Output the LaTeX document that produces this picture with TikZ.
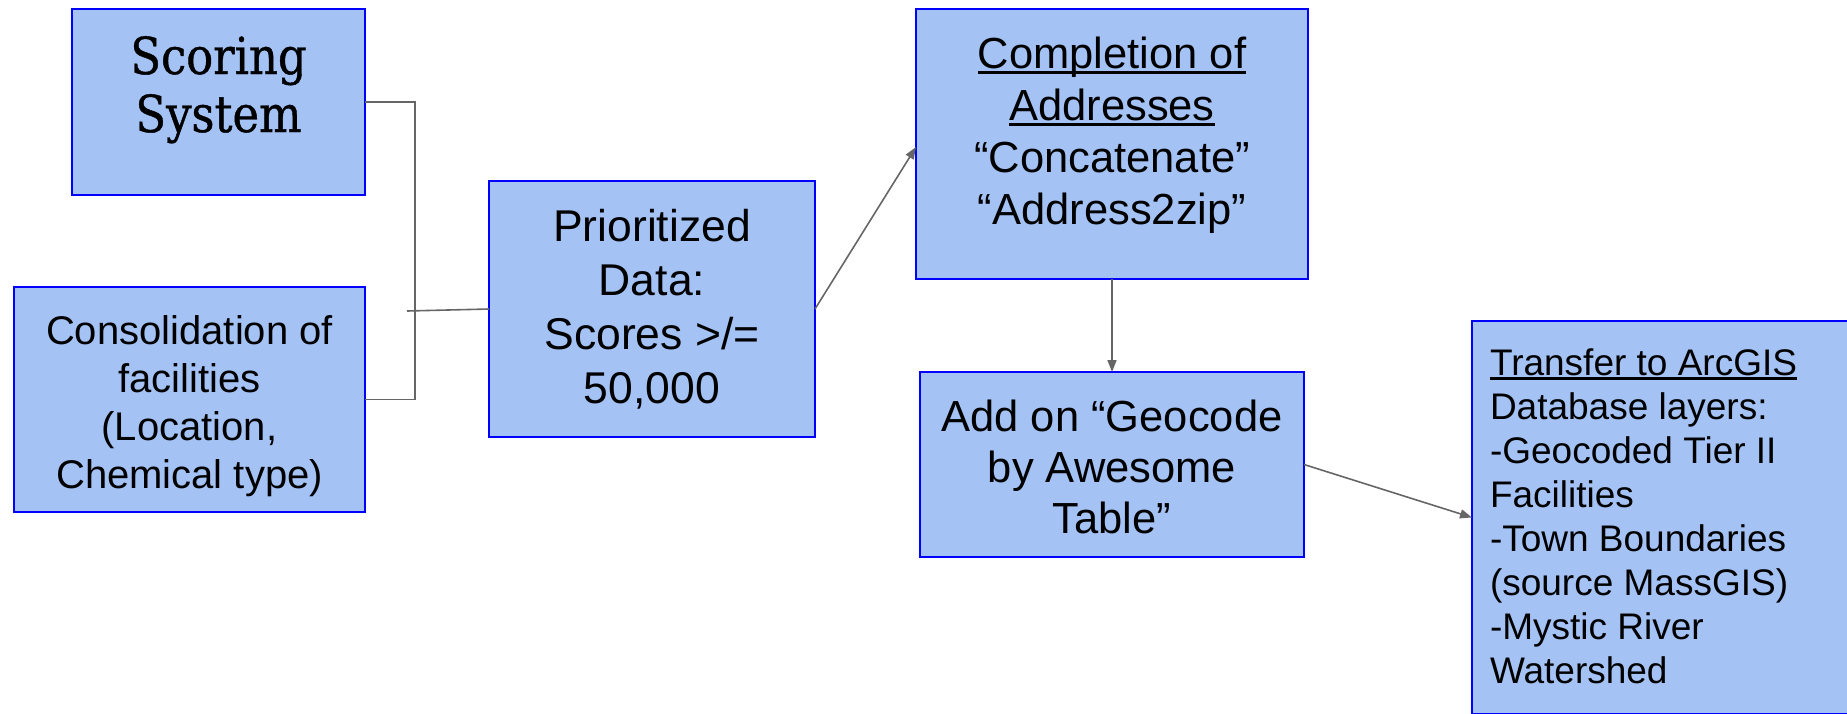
\documentclass[tikz,border=0pt]{standalone}
\usepackage{fontspec}
\setmainfont{Liberation Sans}
\newfontfamily\headserif[FakeStretch=0.88,FakeBold=0.8]{DejaVu Serif}
\usetikzlibrary{arrows.meta}
\definecolor{boxfill}{HTML}{A4C2F4}
\definecolor{boxline}{HTML}{0000FF}
\definecolor{linkgray}{HTML}{666666}
% underline drawn through the descenders, as in slide software
\newcommand\myul[1]{\setbox0=\hbox{#1}\rlap{\rule[-5pt]{\wd0}{2.8pt}}\box0}
\tikzset{
  box/.style={draw=boxline, line width=2pt, fill=boxfill, inner sep=0pt, outer sep=0pt},
  boxtext/.style={inner sep=0pt, outer sep=0pt, align=center, anchor=north, text=black},
  wire/.style={draw=linkgray, line width=1.6pt},
  flow/.style={wire, -{Triangle[length=12pt,width=9pt]}},
}
\begin{document}
\begin{tikzpicture}[x=1pt,y=-1pt]
\useasboundingbox (0,0) rectangle (1847,713);
\clip (0,0) rectangle (1847,713);

% boxes
\node[box, minimum width=293pt, minimum height=186pt] (scoring) at (218.5,102) {};
\node[box, minimum width=351pt, minimum height=225pt] (consol) at (189.5,399.5) {};
\node[box, minimum width=326pt, minimum height=256pt] (prior) at (652,309) {};
\node[box, minimum width=392pt, minimum height=270pt] (complete) at (1112,144) {};
\node[box, minimum width=384pt, minimum height=185pt] (geocode) at (1112,464.5) {};
\node[box, minimum width=420pt, minimum height=393pt] (arcgis) at (1682,517.5) {};

% texts
\node[boxtext, font=\headserif\fontsize{51}{58}\selectfont] (scoringtext) at (218.5,33.4)
  {\strut Scoring\\\strut System};
\node[boxtext, font=\fontsize{40}{48}\selectfont] (consoltext) at (189.5,310.4)
  {\strut Consolidation of\\\strut facilities\\\strut (Location,\\\strut Chemical type)};
\node[boxtext, font=\fontsize{44.5}{54}\selectfont] (priortext) at (652,203.2)
  {\strut Prioritized\\\strut Data:\\\strut Scores >/=\\\strut 50,000};
\node[boxtext, font=\fontsize{43.5}{51.7}\selectfont] (completetext) at (1112,32.8)
  {\strut\myul{Completion of}\\\strut\myul{Addresses}\\\strut “Concatenate”\\\strut “Address2zip”};
\node[boxtext, font=\fontsize{43.5}{51}\selectfont] (geocodetext) at (1112,395.3)
  {\strut Add on “Geocode\\\strut by Awesome\\\strut Table”};
\node[boxtext, align=left, anchor=north west, font=\fontsize{37}{44}\selectfont] (arcgistext) at (1490,344.2)
  {\strut\myul{Transfer to ArcGIS}\\\strut Database layers:\\\strut -Geocoded Tier II\\\strut Facilities\\\strut -Town Boundaries\\\strut (source MassGIS)\\\strut -Mystic River\\\strut Watershed};

% connectors
\draw[wire] (scoring.east) -- ++(50,0) |- (consol.east);
\coordinate (merge) at (407,311);
\draw[wire] (merge) -- (prior.west);
\draw[flow] (prior.east) -- ([yshift=-3pt]complete.west);
\draw[flow] (complete.south) -- (geocode.north);
\draw[flow] (geocode.east) -- (arcgis.west);
\end{tikzpicture}
\end{document}
